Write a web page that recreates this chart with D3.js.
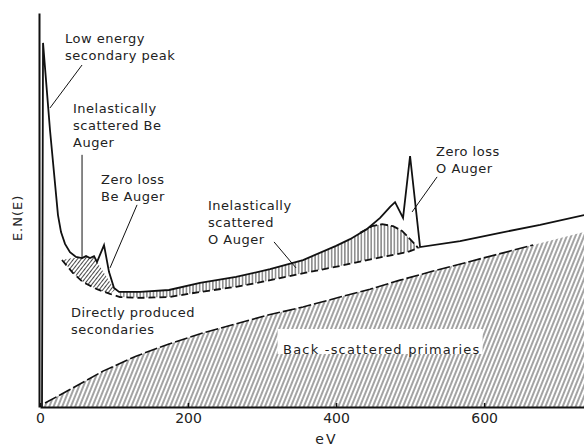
<!DOCTYPE html>
<html>
<head>
<meta charset="utf-8">
<script src="https://cdn.jsdelivr.net/npm/d3@7"></script>
<style>
  html, body { margin: 0; padding: 0; background: #fff; }
  svg { display: block; }
  text { font-family: "DejaVu Sans", sans-serif; fill: #222; }
</style>
</head>
<body>
<script>
// values: [energy eV, E.N(E) arbitrary units]
var totalSpectrum = [[2.7,0],[4.1,92.4],[13.5,70.3],[24.3,48.7],[28.4,44.4],[33.8,41.4],[40.5,39.3],[48.6,38.1],
  [56.8,37.8],[62.2,38.3],[67.6,37.8],[73,38.3],[77,36.8],[86.5,41.1],[93.2,34.3],[100,30.2],[106.8,29.2],
  [135.1,29.2],[174.3,29.7],[216.2,31.5],[264.9,33.0],[310.8,35.0],[355.4,37.3],[400,40.9],[418.9,42.6],
  [441.9,45.2],[459.5,48.0],[473,50.8],[479.7,52.0],[490.5,48.0],[500,63.7],[513.5,40.6],[567.6,42.1],
  [621.6,44.2],[675.7,46.2],[735.1,48.7]];
var secondaryBackground = [[29.7,37.3],[44.6,34.0],[58.1,31.7],[77,29.9],[94.6,28.7],[108.1,27.9],
  [135.1,27.7],[174.3,27.9],[216.2,29.2],[264.9,30.5],[306.8,32.0],[351.4,33.8],[405.4,35.8],[441.9,37.3],
  [468.9,38.3],[495.9,39.3],[512.2,40.4]];
var oInelasticTop = [[432.4,44.2],[448.6,45.9],[462.2,46.4],[477,45.9],[489.2,44.7],[500,42.6],[510.8,40.4]];
var beInelasticTop = [[29.7,37.3],[43.2,37.8],[56.8,37.8],[62.2,38.3],[67.6,37.8],[73,38.3],[77,36.8],[101.4,29.7]];
var backscatterEdge = [[0,0],[6.8,1.0],[39.2,4.3],[85.1,9.1],[129.7,12.9],[174.3,16.0],[220.3,18.8],
  [264.9,21.1],[309.5,23.4],[355.4,25.4],[405.4,27.9],[445.9,29.9],[486.5,32.2],[531.1,34.5],
  [598.6,37.8],[666.2,41.1],[735.1,44.4]];
var xTicks = [0, 200, 400, 600];

var width = 584, height = 447;
var svg = d3.select('body').append('svg').attr('width', width).attr('height', height);

var x = d3.scaleLinear().domain([0, 735]).range([40, 584]);
var y = d3.scaleLinear().domain([0, 100]).range([407, 13]);

var line = d3.line().x(function(d){ return x(d[0]); }).y(function(d){ return y(d[1]); });

// hatch patterns
var defs = svg.append('defs');
function hatch(id, w, angle, sw) {
  defs.append('pattern')
      .attr('id', id)
      .attr('patternUnits', 'userSpaceOnUse')
      .attr('width', w).attr('height', 10)
      .attr('patternTransform', 'rotate(' + angle + ')')
    .append('line')
      .attr('x1', w / 2).attr('y1', 0).attr('x2', w / 2).attr('y2', 10)
      .attr('stroke', '#333').attr('stroke-width', sw);
}
hatch('diag', 4, 22, 0.9);
hatch('diagBe', 3, 38, 0.9);
hatch('vert', 3.3, 0, 0.9);

// back-scattered primaries
svg.append('path')
  .datum(backscatterEdge)
  .attr('d', d3.area().x(function(d){ return x(d[0]); }).y0(y(0)).y1(function(d){ return y(d[1]); }))
  .attr('fill', 'url(#diag)');

// inelastically scattered O Auger (vertical hatch)
var oUpper = totalSpectrum.filter(function(d){ return d[0] >= 106.8 && d[0] < 432.4; }).concat(oInelasticTop);
var oLower = secondaryBackground.filter(function(d){ return d[0] >= 108; }).slice().reverse();
svg.append('path')
  .attr('d', line(oUpper.concat(oLower)) + 'Z')
  .attr('fill', 'url(#vert)');

// inelastically scattered Be Auger
var beLower = secondaryBackground.filter(function(d){ return d[0] <= 101.4; }).slice().reverse();
svg.append('path')
  .attr('d', line(beInelasticTop.concat(beLower)) + 'Z')
  .attr('fill', 'url(#diagBe)');

// label box cut out of the hatching
svg.append('rect')
  .attr('x', x(321)).attr('y', y(19.8))
  .attr('width', 205).attr('height', 25)
  .attr('fill', '#fff');

// dashed boundaries
svg.append('path').datum(backscatterEdge.slice(1, -1)).attr('d', line)
  .attr('fill', 'none').attr('stroke', '#111').attr('stroke-width', 1.6).attr('stroke-dasharray', '13,3');
svg.append('path').datum(secondaryBackground).attr('d', line)
  .attr('fill', 'none').attr('stroke', '#111').attr('stroke-width', 1.8).attr('stroke-dasharray', '7,4');
svg.append('path').datum(oInelasticTop).attr('d', line)
  .attr('fill', 'none').attr('stroke', '#111').attr('stroke-width', 1.8).attr('stroke-dasharray', '8,3');

// total spectrum
svg.append('path').datum(totalSpectrum).attr('d', line)
  .attr('fill', 'none').attr('stroke', '#111').attr('stroke-width', 1.8).attr('stroke-linejoin', 'miter');

// axes
var xAxis = svg.append('g')
  .attr('transform', 'translate(0,' + y(0) + ')')
  .call(d3.axisBottom(x).tickValues(xTicks).tickSize(-4).tickSizeOuter(0).tickPadding(6));
xAxis.select('.domain').attr('stroke', '#111').attr('stroke-width', 2);
xAxis.selectAll('.tick line').attr('stroke', '#111').attr('stroke-width', 1.5);
xAxis.selectAll('.tick text').style('font-family', '"DejaVu Sans", sans-serif').style('font-size', '14px').attr('fill', '#222');

var yAxis = svg.append('g')
  .attr('transform', 'translate(' + (x(0) - 1) + ',0)')
  .call(d3.axisLeft(y).tickValues([]).tickSizeOuter(0));
yAxis.select('.domain').attr('stroke', '#111').attr('stroke-width', 2);

svg.append('text')
  .attr('x', x(387)).attr('y', 444)
  .attr('text-anchor', 'middle').style('font-size', '14px').style('letter-spacing', '2px')
  .text('eV');
svg.append('text')
  .attr('transform', 'translate(22,' + y(48) + ') rotate(-90)')
  .attr('text-anchor', 'middle').style('font-size', '13px').style('letter-spacing', '1px')
  .text('E.N(E)');

// annotations
function label(e, v, lines, ls) {
  var t = svg.append('text').attr('x', x(e)).attr('y', y(v))
    .style('font-size', '13px').style('letter-spacing', (ls || 0.5) + 'px');
  lines.forEach(function(s, i) {
    t.append('tspan').attr('x', x(e)).attr('dy', i ? 17 : 0).text(s);
  });
}
function leader(a, b) {
  svg.append('line')
    .attr('x1', x(a[0])).attr('y1', y(a[1])).attr('x2', x(b[0])).attr('y2', y(b[1]))
    .attr('stroke', '#111').attr('stroke-width', 1);
}

label(33.8, 92.4, ['Low energy', 'secondary peak']);
leader([56.8, 86.8], [13.5, 75.9]);
label(44.6, 74.6, ['Inelastically', 'scattered Be', 'Auger']);
leader([56.8, 64.0], [56.8, 37.8]);
label(82.4, 56.6, ['Zero loss', 'Be Auger']);
leader([131.1, 51.3], [94.6, 35.3]);
label(227.0, 50.0, ['Inelastically', 'scattered', 'O Auger']);
leader([316.2, 41.9], [345.9, 35.3]);
label(535.1, 63.7, ['Zero loss', 'O Auger']);
leader([536.5, 58.4], [502.7, 49.5]);
label(41.9, 22.8, ['Directly produced', 'secondaries']);
label(328.4, 13.4, ['Back -scattered primaries'], 1.2);
</script>
</body>
</html>
